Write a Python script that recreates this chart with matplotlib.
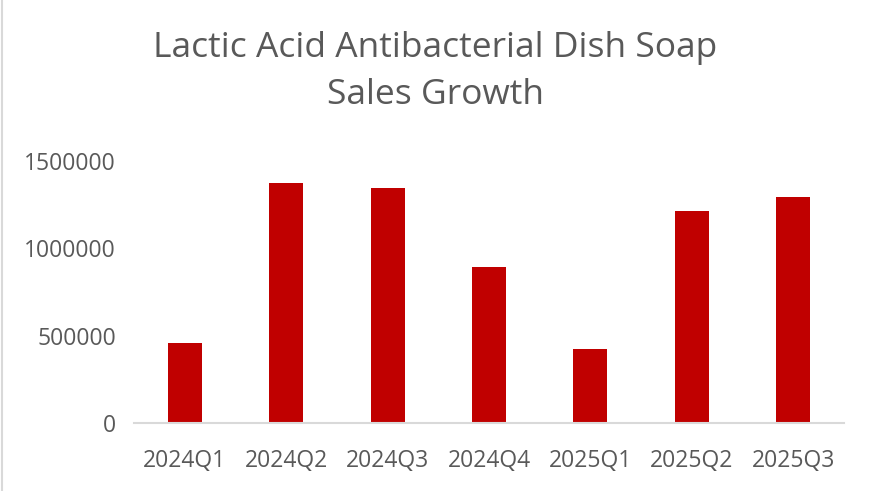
import matplotlib
matplotlib.use("Agg")
import matplotlib.pyplot as plt
from matplotlib.lines import Line2D

quarters = ["2024Q1", "2024Q2", "2024Q3", "2024Q4", "2025Q1", "2025Q2", "2025Q3"]
sales = [458000, 1375000, 1345000, 893000, 424000, 1214000, 1294000]
yticks = [0, 500000, 1000000, 1500000]

plt.rcParams['font.family'] = ['Open Sans', 'DejaVu Sans']
text_color = '#595959'

fig = plt.figure(figsize=(8.71, 4.91), dpi=100)
ax = fig.add_axes([134 / 871, 68 / 491, 710 / 871, 262 / 491])

x = range(len(quarters))
ax.bar(x, sales, width=0.335, color='#C00000')

ax.set_xlim(-0.5, len(quarters) - 0.5)
ax.set_ylim(0, 1500000)
ax.set_yticks(yticks)
ax.set_yticklabels([str(v) for v in yticks])
ax.set_xticks(list(x))
ax.set_xticklabels(quarters)

for side in ['top', 'right', 'left']:
    ax.spines[side].set_visible(False)
ax.spines['bottom'].set_color('#D9D9D9')
ax.spines['bottom'].set_linewidth(1.5)
ax.tick_params(axis='both', length=0, labelsize=16.5, colors=text_color)
ax.tick_params(axis='x', pad=19)
ax.tick_params(axis='y', pad=13)

fig.text(0.5, 0.902, "Lactic Acid Antibacterial Dish Soap", ha='center', va='center',
         fontsize=25.5, color=text_color)
fig.text(0.5, 0.807, "Sales Growth", ha='center', va='center',
         fontsize=25.5, color=text_color)

# chart border on the left edge
fig.add_artist(Line2D([1.5 / 871, 1.5 / 871], [0, 1], color='#D9D9D9', linewidth=1.5))

fig.savefig("out.png", dpi=100)
